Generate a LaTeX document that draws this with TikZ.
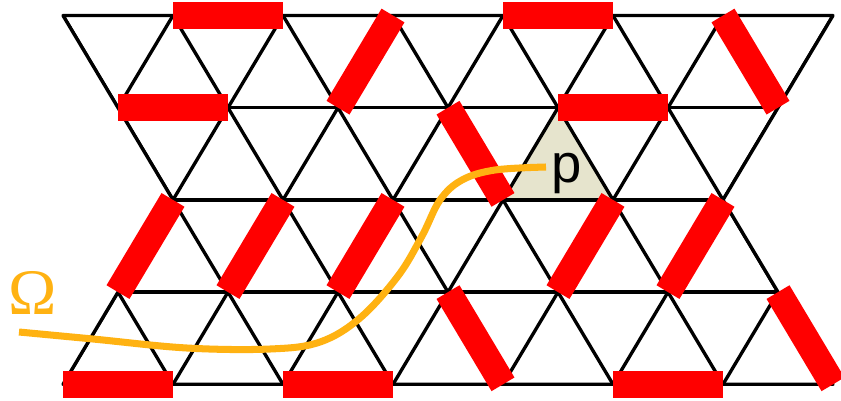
\documentclass[tikz,border=0pt]{standalone}
\usepackage{fontspec}
\usepackage{xcolor}
\newfontfamily\labelSans{Liberation Sans}
\newfontfamily\labelSerif{Liberation Serif}
\definecolor{dimerRed}{RGB}{255,0,0}
\definecolor{omegaOrange}{RGB}{255,178,18}
\definecolor{plaqBeige}{RGB}{230,228,205}
\tikzset{
  bond/.style={line width=1.9pt,line cap=round,line join=round,black},
  dimer/.style={line width=15.2pt,line cap=butt,dimerRed},
  plaquette/.style={fill=plaqBeige},
  omegacurve/.style={line width=4pt,line cap=butt,omegaOrange},
  plabel/.style={font=\labelSans\fontsize{31}{32}\selectfont,inner sep=0pt},
  omegalabel/.style={font=\labelSerif\fontsize{37}{38}\selectfont,text=omegaOrange,inner sep=0pt}
}
\begin{document}
\begin{tikzpicture}[x=0.02cm,y=-0.02cm]
\useasboundingbox (0,0) rectangle (841,400);
% lattice sites, rows of 110px, odd rows shifted by half a bond
\foreach \r in {0,...,4}
  \foreach \k in {0,...,7}
    \coordinate (v\r-\k) at ({63+55*mod(\r,2)+110*\k},{15.5+92.2*\r});
% shaded plaquette
\fill[plaquette] (v1-4) -- (v2-4) -- (v2-5) -- cycle;
% triangular lattice inside the hourglass
\begin{scope}
  \clip (v0-0) -- (v0-7) -- (v2-6) -- (v4-7) -- (v4-0) -- (v2-1) -- cycle;
  \foreach \r in {1,2,3}
    \draw[bond] (v\r-0) ++(-60,0) -- (v\r-7);
  \foreach \k in {-1,...,6}
    \draw[bond] ({63+110*\k},15.5) -- ++(220,368.8);
  \foreach \k in {1,...,8}
    \draw[bond] ({63+110*\k},15.5) -- ++(-220,368.8);
\end{scope}
\draw[bond] (v0-0) -- (v0-7) -- (v2-6) -- (v4-7) -- (v4-0) -- (v2-1) -- cycle;
% dimers
\foreach \a/\b in {v0-1/v0-2,v0-4/v0-5,v0-3/v1-2,v0-6/v1-6,
                   v1-0/v1-1,v1-4/v1-5,v1-3/v2-4,
                   v2-1/v3-0,v2-2/v3-1,v2-3/v3-2,v2-5/v3-4,v2-6/v3-5,
                   v3-3/v4-4,v3-6/v4-7,
                   v4-0/v4-1,v4-2/v4-3,v4-5/v4-6}
  \draw[dimer] (\a) -- (\b);
% string Omega ending in the plaquette
\draw[omegacurve] plot[smooth,tension=0.6] coordinates {(19,332) (93,339) (187,348) (270,349) (320,342) (360,318) (398,276) (422,236) (440,200) (462,180) (495,170) (546,167)};
\node[plabel,anchor=base] (plab) at (567,182) {p};
\node[omegalabel] (omlab) at (33,293) {Ω};
\end{tikzpicture}
\end{document}
